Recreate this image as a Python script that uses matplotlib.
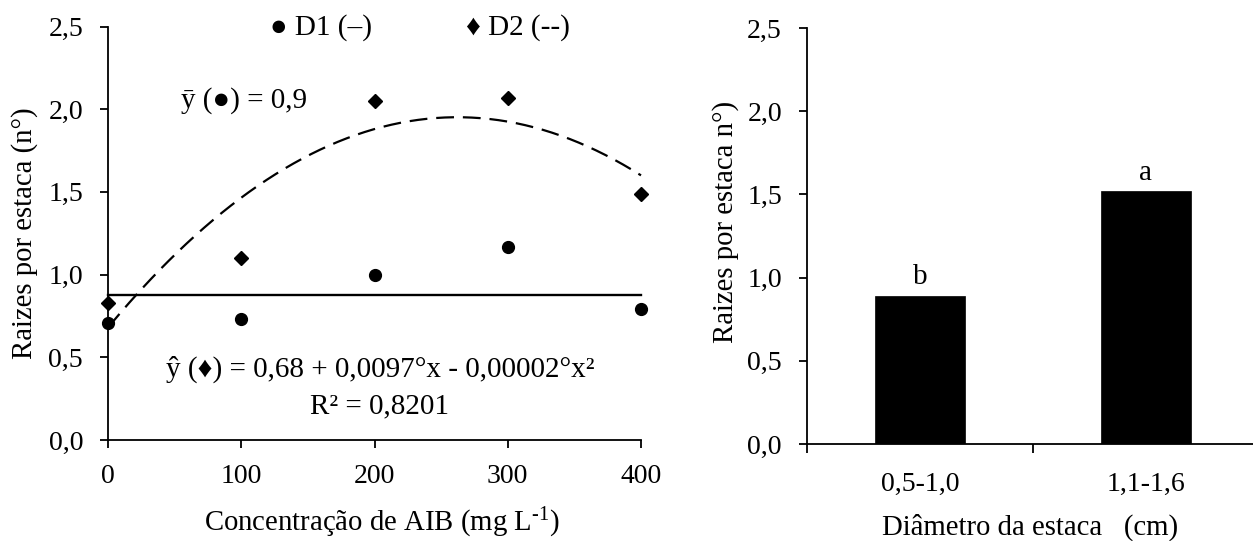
import numpy as np
import matplotlib.pyplot as plt

plt.rcParams['font.family'] = ['Liberation Serif', 'DejaVu Sans']
plt.rcParams['mathtext.fontset'] = 'custom'
plt.rcParams['mathtext.rm'] = 'Liberation Serif'
plt.rcParams['mathtext.default'] = 'regular'

# IBA concentration trial (mg L-1)
conc = [0, 100, 200, 300, 400]
d1 = [0.71, 0.73, 1.00, 1.165, 0.79]
d2 = [0.83, 1.10, 2.05, 2.07, 1.49]
d2_coef = [0.68, 0.0097, -0.0000185]   # quadratic fit for D2
conc_ticks = [0, 100, 200, 300, 400]
y_ticks = [0.0, 0.5, 1.0, 1.5, 2.0, 2.5]
y_tick_labels = ['0,0', '0,5', '1,0', '1,5', '2,0', '2,5']

# cutting diameter trial (cm)
diam_classes = ['0,5-1,0', '1,1-1,6']
diam_means = [0.89, 1.52]
diam_letters = ['b', 'a']

FS_TICK = 20
FS_NOTE = 21
FS_LABEL = 20.7
W, H = 1253, 541
fig = plt.figure(figsize=(W / 100, H / 100), dpi=100)


def px_axes(left, right, bottom, top):
    return fig.add_axes([left / W, 1 - bottom / H, (right - left) / W, (bottom - top) / H])


def style(ax):
    for s in ('top', 'right'):
        ax.spines[s].set_visible(False)
    for s in ('left', 'bottom'):
        ax.spines[s].set_linewidth(1.3)
    ax.set_ylim(0, 2.5)
    ax.set_yticks(y_ticks)
    ax.set_yticklabels(y_tick_labels)
    ax.tick_params(axis='y', direction='out', length=5.5, width=1.3,
                   pad=12.5, labelsize=FS_TICK)


# ---- left panel: number of roots vs IBA concentration ----
ax1 = px_axes(108, 641, 440, 26.5)
style(ax1)
ax1.set_xlim(0, 400)
ax1.set_xticks(conc_ticks)
ax1.set_xticklabels([str(c) for c in conc_ticks])
ax1.tick_params(axis='x', direction='out', length=6, width=1.3,
                pad=11.5, labelsize=FS_TICK)

xs = np.linspace(0, 400, 300)
ys = d2_coef[0] + d2_coef[1] * xs + d2_coef[2] * xs ** 2
ax1.plot(xs, ys, color='black', lw=1.6, dashes=(8, 4), clip_on=False)
d1_mean = np.mean(d1)
ax1.plot([0, 400], [d1_mean, d1_mean], color='black', lw=1.7, clip_on=False)
ax1.plot(conc, d1, 'o', color='black', ms=8.5, clip_on=False, zorder=5)
ax1.plot(conc, d2, 'D', color='black', ms=7, clip_on=False, zorder=5)

ax1.text(160, 2.453, '● D1 (–)', ha='center', va='baseline', fontsize=FS_NOTE)
ax1.text(308, 2.453, '♦ D2 (--)', ha='center', va='baseline', fontsize=FS_NOTE)
ax1.text(55, 2.007, 'ȳ (●) = 0,9', ha='left', va='baseline', fontsize=FS_NOTE)
ax1.text(204, 0.381, 'ŷ (♦) = 0,68 + 0,0097°x - 0,00002°x²',
         ha='center', va='baseline', fontsize=FS_NOTE)
ax1.text(204, 0.163, 'R² = 0,8201', ha='center', va='baseline', fontsize=FS_NOTE)

ax1.set_ylabel('Raizes por estaca (n°)', fontsize=FS_LABEL)
ax1.yaxis.label.set_va('center')
ax1.yaxis.set_label_coords(-0.156, 0.50)
ax1.set_xlabel(r'Concentração de AIB (mg L$^{\text{-}1}$)', fontsize=FS_LABEL)
ax1.xaxis.label.set_va('baseline')
ax1.xaxis.set_label_coords(0.514, -0.219)

# ---- right panel: number of roots vs cutting diameter ----
ax2 = px_axes(807, 1259, 444, 28)
style(ax2)
xpos = np.arange(len(diam_classes))
ax2.bar(xpos, diam_means, width=0.4, color='black', edgecolor='black', lw=0.5)
ax2.set_xlim(-0.5, len(diam_classes) - 0.5)
ax2.set_xticks(xpos)
ax2.set_xticklabels(diam_classes)
ax2.set_xticks(np.arange(len(diam_classes) + 1) - 0.5, minor=True)
ax2.tick_params(axis='x', which='major', length=0, pad=20, labelsize=FS_TICK)
ax2.tick_params(axis='x', which='minor', direction='out', length=6.5, width=1.3)
for i, (v, letter) in enumerate(zip(diam_means, diam_letters)):
    ax2.annotate(letter, (xpos[i], v), xytext=(0, 8.3), textcoords='offset points',
                 ha='center', va='baseline', fontsize=FS_NOTE)

ax2.set_ylabel('Raizes por estaca n°)', fontsize=FS_LABEL)
ax2.yaxis.label.set_va('center')
ax2.yaxis.set_label_coords(-0.181, 0.534)
ax2.set_xlabel('Diâmetro da estaca   (cm)', fontsize=FS_LABEL)
ax2.xaxis.label.set_va('baseline')
ax2.xaxis.set_label_coords(0.493, -0.218)

fig.savefig('out.png', dpi=100)
